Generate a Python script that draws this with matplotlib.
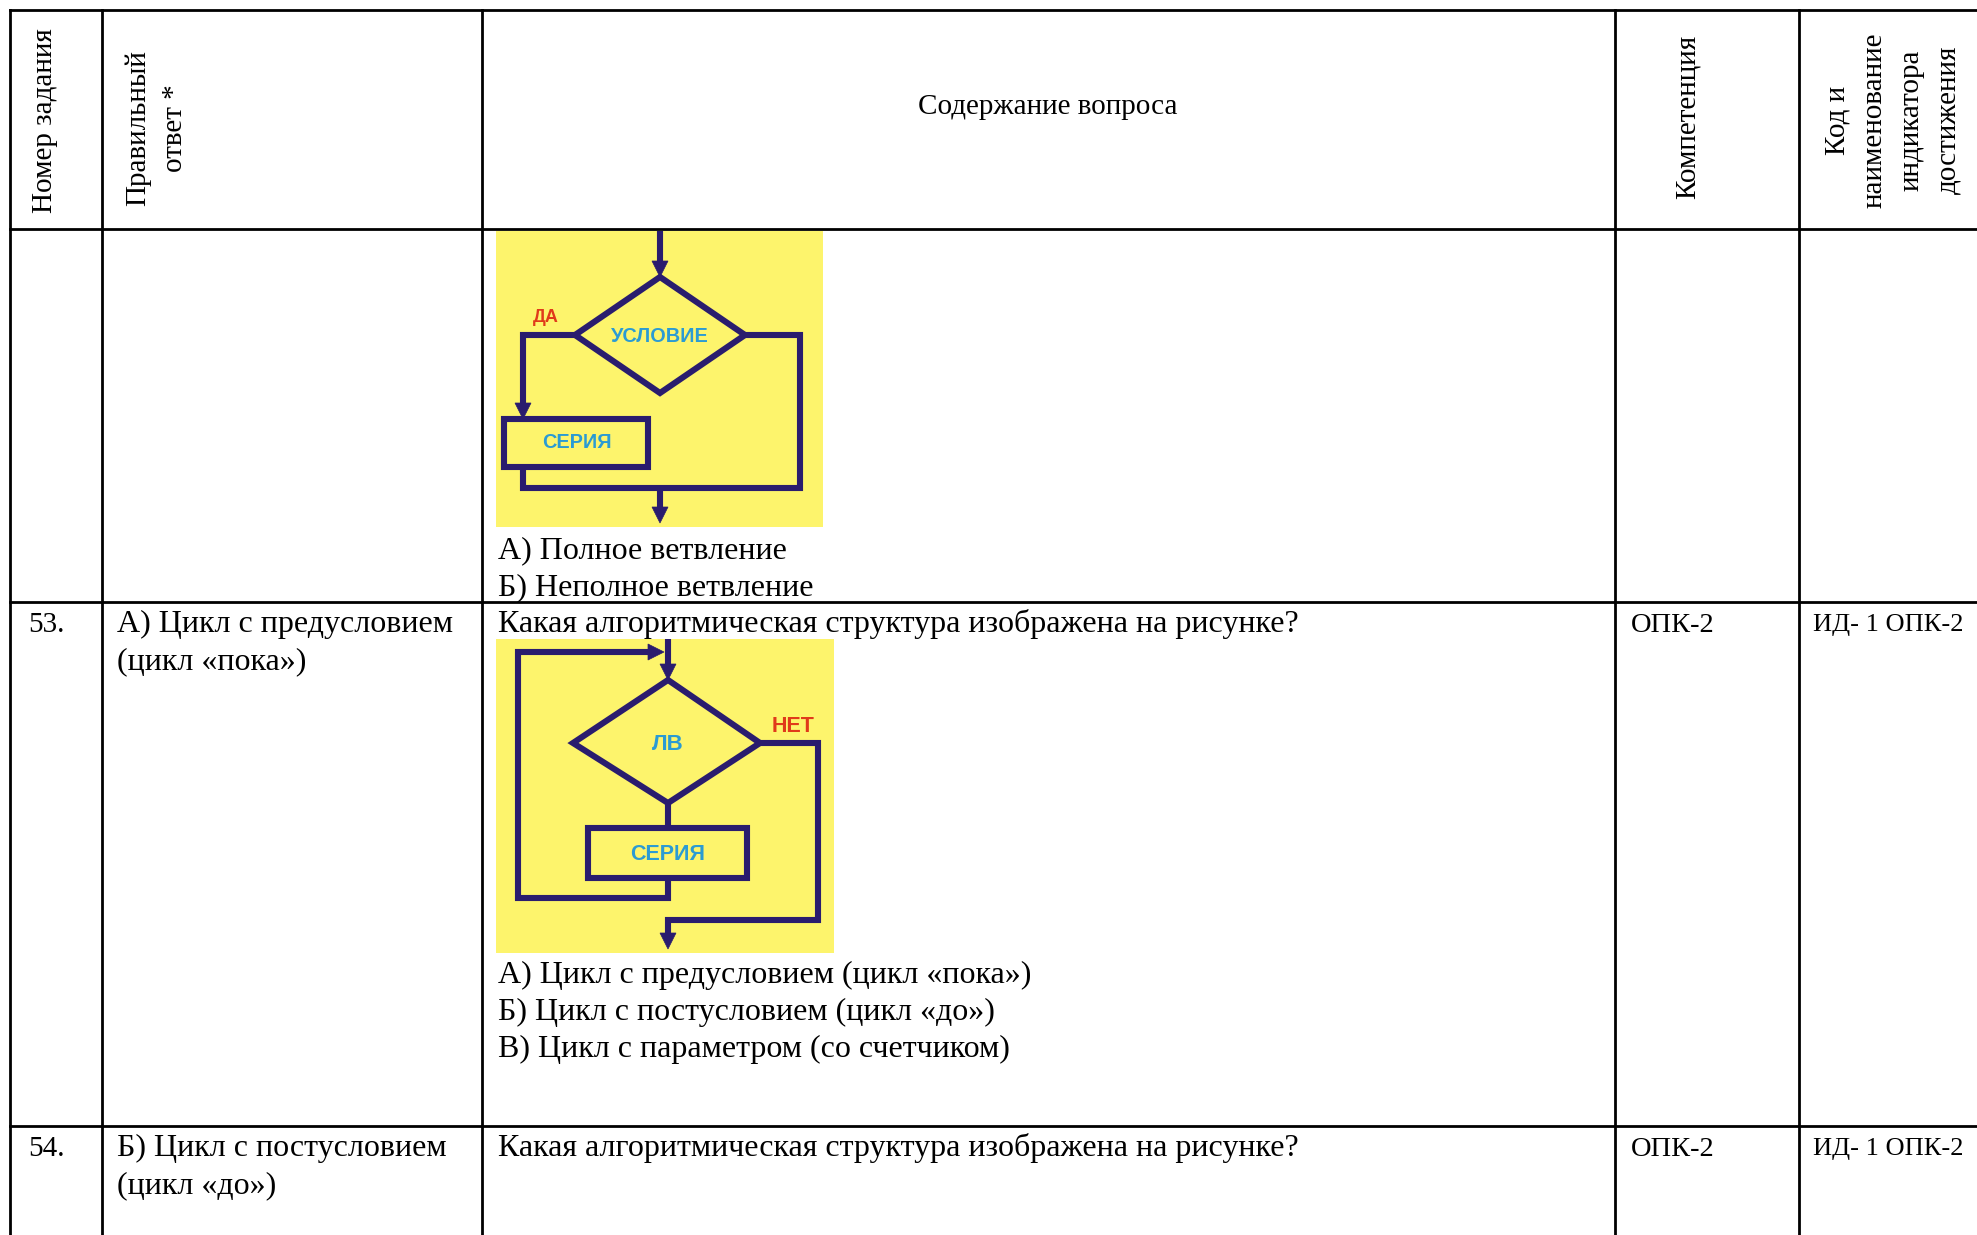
import matplotlib.pyplot as plt
from matplotlib.patches import Polygon, Rectangle

W, H = 1977, 1235

# table content
headers = ['Номер задания', 'Правильный\nответ *', 'Содержание вопроса',
           'Компетенция', 'Код и\nнаименование\nиндикатора\nдостижения']
task_numbers = ['', '53.', '54.']
right_answers = [[],
                 ['А) Цикл с предусловием', '(цикл «пока»)'],
                 ['Б) Цикл с постусловием', '(цикл «до»)']]
questions = ['',
             'Какая алгоритмическая структура изображена на рисунке?',
             'Какая алгоритмическая структура изображена на рисунке?']
options = [['А) Полное ветвление', 'Б) Неполное ветвление'],
           ['А) Цикл с предусловием (цикл «пока»)',
            'Б) Цикл с постусловием (цикл «до»)',
            'В) Цикл с параметром (со счетчиком)'],
           []]
competences = ['', 'ОПК-2', 'ОПК-2']
indicators = ['', 'ИД- 1 ОПК-2', 'ИД- 1 ОПК-2']

# flowchart labels
branch_labels = ['ДА', 'УСЛОВИЕ', 'СЕРИЯ']
loop_labels = ['НЕТ', 'ЛВ', 'СЕРИЯ']

SERIF = 'Liberation Serif'
SANS = 'Liberation Sans'
NAVY = '#2a1c6e'
YELLOW = '#fdf46c'
BLUE = '#2b9bd3'
RED = '#e03a1a'
FS = 23
FS_HEAD = 21
LW = 4.4

fig = plt.figure(figsize=(W / 100, H / 100), dpi=100)
ax = fig.add_axes([0, 0, 1, 1])
ax.set_xlim(0, W)
ax.set_ylim(H, 0)
ax.axis('off')


def flow_path(pts, arrow=False):
    xs = [p[0] for p in pts]
    ys = [p[1] for p in pts]
    if arrow:
        (x0, y0), (x1, y1) = pts[-2], pts[-1]
        d = ((x1 - x0) ** 2 + (y1 - y0) ** 2) ** 0.5
        ux, uy = (x1 - x0) / d, (y1 - y0) / d
        hl, hw = 16, 8
        bx, by = x1 - ux * hl, y1 - uy * hl
        xs[-1], ys[-1] = bx + ux * 2, by + uy * 2
        ax.add_patch(Polygon([(x1, y1), (bx - uy * hw, by + ux * hw), (bx + uy * hw, by - ux * hw)],
                             closed=True, facecolor=NAVY, edgecolor=NAVY, lw=0.5, zorder=4))
    ax.plot(xs, ys, color=NAVY, lw=LW, solid_joinstyle='miter', solid_capstyle='butt', zorder=3)


def shape(pts):
    ax.add_patch(Polygon(pts, closed=True, facecolor='none', edgecolor=NAVY, lw=LW,
                         joinstyle='miter', zorder=3))


def label(x, y, s, color, size):
    ax.text(x, y, s, color=color, fontsize=size, fontweight='bold', family=SANS,
            ha='center', va='center', zorder=5)


# --- flowchart 1: branching
ax.add_patch(Rectangle((496, 231), 327, 296, facecolor=YELLOW, edgecolor='none', zorder=1))
flow_path([(660, 231), (660, 277)], arrow=True)
shape([(660, 277), (745, 335), (660, 393), (575, 335)])
flow_path([(575, 335), (523, 335), (523, 419)], arrow=True)
shape([(504, 419), (648, 419), (648, 467), (504, 467)])
flow_path([(523, 467), (523, 488), (800, 488), (800, 335), (745, 335)])
flow_path([(660, 488), (660, 523)], arrow=True)
label(546, 318, branch_labels[0], RED, 13)
label(660, 336, branch_labels[1], BLUE, 14.3)
label(577, 443, branch_labels[2], BLUE, 14.3)

# --- flowchart 2: loop with precondition
ax.add_patch(Rectangle((496, 639), 338, 314, facecolor=YELLOW, edgecolor='none', zorder=1))
flow_path([(668, 639), (668, 680)], arrow=True)
flow_path([(668, 878), (668, 898), (518, 898), (518, 652), (664, 652)], arrow=True)
shape([(668, 680), (760, 743), (668, 803), (573, 743)])
flow_path([(668, 803), (668, 828)])
shape([(588, 828), (747, 828), (747, 878), (588, 878)])
flow_path([(760, 743), (818, 743), (818, 920), (668, 920), (668, 949)], arrow=True)
label(793, 727, loop_labels[0], RED, 15.5)
label(668, 745, loop_labels[1], BLUE, 16)
label(668, 855, loop_labels[2], BLUE, 15.5)

# --- table grid
col_x = [10, 102, 482, 1615, 1799]
row_y = [10, 229, 602, 1126]
for x in col_x:
    ax.plot([x, x], [row_y[0], H], color='black', lw=2, zorder=6, solid_capstyle='projecting')
for y in row_y:
    ax.plot([col_x[0], W], [y, y], color='black', lw=2, zorder=6, solid_capstyle='projecting')

# --- header
ax.text(45, 121, headers[0], rotation=90, ha='center', va='center', fontsize=FS_HEAD, family=SERIF)
ax.text(156, 128, headers[1], rotation=90, ha='center', va='center', fontsize=FS_HEAD, family=SERIF,
        multialignment='center', linespacing=1.55)
ax.text(1048, 107, headers[2], ha='center', va='center', fontsize=FS_HEAD, family=SERIF)
ax.text(1688, 117, headers[3], rotation=90, ha='center', va='center', fontsize=FS_HEAD, family=SERIF)
ax.text(1893, 120, headers[4], rotation=90, ha='center', va='center', fontsize=FS_HEAD, family=SERIF,
        multialignment='center', linespacing=1.55)

# --- rows
row_base = [None, 632, 1156]
option_base = [558, 983, None]
step = 37
for i in range(3):
    b = row_base[i]
    if b is not None:
        ax.text(28, b, task_numbers[i], fontsize=21, family=SERIF, va='baseline')
        for k, line in enumerate(right_answers[i]):
            ax.text(117, b + k * step, line, fontsize=FS, family=SERIF, va='baseline')
        ax.text(498, b, questions[i], fontsize=FS, family=SERIF, va='baseline')
        ax.text(1631, b, competences[i], fontsize=20.5, family=SERIF, va='baseline')
        ax.text(1813, b - 1, indicators[i], fontsize=19, family=SERIF, va='baseline')
    if option_base[i] is not None:
        for k, line in enumerate(options[i]):
            ax.text(498, option_base[i] + k * step, line, fontsize=FS, family=SERIF, va='baseline')

fig.savefig('out.png', dpi=100, facecolor='white')
